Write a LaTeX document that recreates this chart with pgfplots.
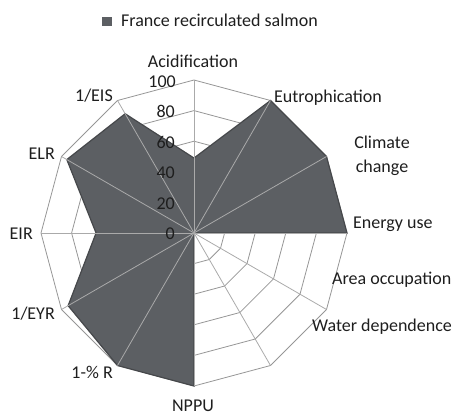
\documentclass[border=0pt]{standalone}
\usepackage{pgfplots}
\pgfplotsset{compat=1.18}
\usepgfplotslibrary{polar}
\usepackage{fontspec}
\setmainfont{Carlito}
\definecolor{fillcol}{RGB}{92,95,99}
\definecolor{edgecol}{RGB}{70,72,75}
\definecolor{gridcol}{RGB}{150,150,150}
\definecolor{spokecol}{RGB}{170,170,170}
\definecolor{txt}{RGB}{30,30,30}
\begin{document}
\fontsize{18bp}{21bp}\selectfont
\begin{tikzpicture}
\useasboundingbox (0,0) rectangle (459bp,-414bp);
\begin{polaraxis}[
  at={(194bp,-233bp)}, anchor=center,
  scale only axis, width=306bp, height=306bp,
  ymin=0, ymax=100, xmin=0, xmax=360,
  hide axis, clip=false,
  legend style={draw=none, fill=none, at={(0.199,1.19)}, anchor=west,
    inner sep=0pt, font=\fontsize{18bp}{21bp}\selectfont\color{txt},
    nodes={inner sep=0pt}},
  legend image code/.code={\fill[fillcol, draw=none] (0bp,-4.5bp) rectangle (10bp,4.5bp);
    \path[draw=none, fill=none] (0bp,0bp) -- (19bp,0bp);},
]
\pgfplotsinvokeforeach{20,40,60,80,100}{
  \addplot[gridcol, line width=0.8pt, forget plot] coordinates {(0,#1) (30,#1) (60,#1) (90,#1) (120,#1) (150,#1) (180,#1) (210,#1) (240,#1) (270,#1) (300,#1) (330,#1) (360,#1)};
}
\addplot[fill=fillcol, draw=edgecol, line width=1.2pt, line join=miter] coordinates {
 (90,49) (60,100) (30,100) (0,100) (330,0) (300,0) (270,100) (240,100) (210,95) (180,64) (150,96) (120,90) (90,49)};
\addlegendentry{France recirculated salmon}
\pgfplotsinvokeforeach{0,30,60,90,120,150,180,210,240,270,300,330}{
  \addplot[spokecol, line width=0.8pt, forget plot] coordinates {(#1,0) (#1,100)};
}
\end{polaraxis}
\begin{scope}[every node/.style={inner sep=0pt, text=txt, font=\fontsize{18bp}{21bp}\selectfont}]
\node[anchor=base east] at (176bp,-87bp) {100};
\node[anchor=base east] at (175bp,-117bp) {80};
\node[anchor=base east] at (175bp,-148bp) {60};
\node[anchor=base east] at (175bp,-178bp) {40};
\node[anchor=base east] at (175bp,-209bp) {20};
\node[anchor=base east] at (175bp,-239bp) {0};
\node[anchor=base] at (193bp,-67bp) {Acidification};
\node[anchor=base west] at (274bp,-102bp) {Eutrophication};
\node[anchor=base] at (382bp,-148bp) {Climate};
\node[anchor=base] at (382bp,-172bp) {change};
\node[anchor=base west] at (353bp,-228bp) {Energy use};
\node[anchor=base west] at (332bp,-284bp) {Area occupation};
\node[anchor=base west] at (312bp,-331bp) {Water dependence};
\node[anchor=base] at (193bp,-411bp) {NPPU};
\node[anchor=base east] at (113bp,-378bp) {1-\% R};
\node[anchor=base east] at (55bp,-319bp) {1/EYR};
\node[anchor=base east] at (33bp,-239bp) {EIR};
\node[anchor=base east] at (55bp,-159bp) {ELR};
\node[anchor=base east] at (113bp,-101bp) {1/EIS};
\end{scope}
\end{tikzpicture}
\end{document}
